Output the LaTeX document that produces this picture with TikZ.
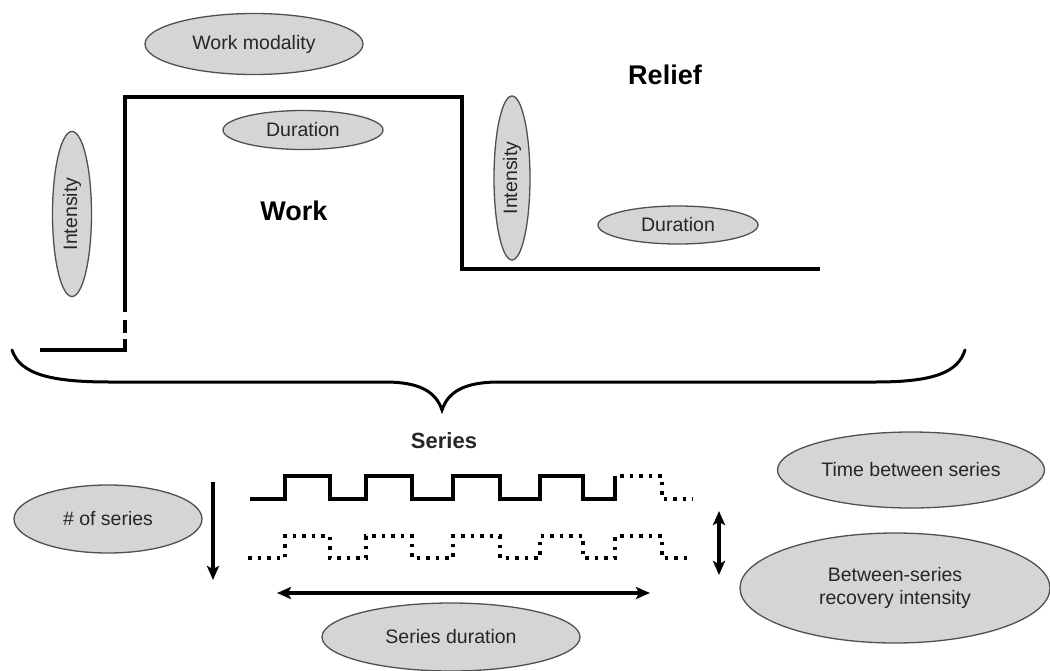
\documentclass[tikz,border=0pt]{standalone}
\usepackage{fontspec}
\setmainfont{Liberation Sans}
\usetikzlibrary{shapes.geometric,arrows.meta}
\definecolor{ellfill}{HTML}{D5D5D5}
\definecolor{elldraw}{HTML}{505050}
\definecolor{txt}{HTML}{262626}
\begin{document}
\begin{tikzpicture}[x=1pt,y=-1pt,
  bubble/.style={ellipse, draw=elldraw, fill=ellfill, line width=1.3pt, inner sep=0pt,
    text=txt, font=\fontsize{19.5}{23}\selectfont, align=center},
  bigword/.style={font=\fontsize{27}{30}\selectfont\bfseries, text=black},
  stepline/.style={line width=4pt, line cap=butt, line join=miter},
  wavesolid/.style={line width=4.5pt, line join=miter},
  wavedot/.style={line width=3.5pt, dash pattern=on 3.5pt off 6pt},
  bracestyle/.style={line width=3pt, line cap=round},
  arr/.style={line width=3.2pt, arrows={-Stealth[length=14pt,width=12pt,inset=3pt]}},
  darr/.style={line width=3.2pt, arrows={Stealth[length=14pt,width=12pt,inset=3pt]-Stealth[length=14pt,width=12pt,inset=3pt]}}]
\useasboundingbox (0,0) rectangle (1050,670);
\fill[white] (0,0) rectangle (1050,670);

% upper part: work / relief profile
\coordinate (s0) at (40,350);
\coordinate (s1) at (125,350);
\coordinate (s2) at (125,97);
\coordinate (s3) at (462,97);
\coordinate (s4) at (462,269);
\coordinate (s5) at (820,269);
\draw[stepline] (s0) -- (s1) -- (125,339);
\draw[stepline] (125,333) -- (125,320);
\draw[stepline] (125,312) -- (s2) -- (s3) -- (s4) -- (s5);

\node[bubble, minimum width=218pt, minimum height=61pt] (modality) at (254,44) {Work modality};
\node[bubble, minimum width=160pt, minimum height=39pt] (wdur) at (303,130) {Duration};
\node[bubble, minimum width=165pt, minimum height=39pt, rotate=90] (wint) at (72,214) {Intensity};
\node[bubble, minimum width=164pt, minimum height=36pt, rotate=90] (rint) at (512,178) {Intensity};
\node[bubble, minimum width=160pt, minimum height=38pt] (rdur) at (678,225) {Duration};
\node[bigword] (work) at (294,211) {Work};
\node[bigword] (relief) at (665,75) {Relief};

% brace
\draw[bracestyle] (12,350) .. controls (20,374) and (50,382) .. (110,382) -- (385,382)
  .. controls (420,382) and (436,392) .. (442,410)
  .. controls (448,392) and (464,382) .. (499,382) -- (875,382)
  .. controls (935,382) and (958,372) .. (965,350);
\node[font=\fontsize{22}{25}\selectfont\bfseries, text=txt] (series) at (444,441) {Series};

% series waveforms
\draw[wavesolid] (250,499) -- (285,499) -- (285,476) -- (330,476) -- (330,499)
  -- (366,499) -- (366,476) -- (412,476) -- (412,499)
  -- (453,499) -- (453,476) -- (500,476) -- (500,499)
  -- (540,499) -- (540,476) -- (583,476) -- (583,499)
  -- (615,499) -- (615,476);
\draw[wavedot] (620,476) -- (662,476) -- (662,499) -- (693,499);
\draw[wavedot] (248,558) -- (285,558) -- (285,536) -- (330,536) -- (330,558)
  -- (366,558) -- (366,536) -- (412,536) -- (412,558)
  -- (453,558) -- (453,536) -- (500,536) -- (500,558)
  -- (540,558) -- (540,536) -- (583,536) -- (583,558)
  -- (615,558) -- (615,536) -- (662,536) -- (662,558) -- (693,558);

% arrows
\coordinate (nA) at (213,482);
\coordinate (nB) at (213,580);
\draw[arr] (nA) -- (nB);
\coordinate (hA) at (277,593);
\coordinate (hB) at (650,593);
\draw[darr] (hA) -- (hB);
\coordinate (vA) at (719,511);
\coordinate (vB) at (719,575);
\draw[darr] (vA) -- (vB);

% lower bubbles
\node[bubble, minimum width=188pt, minimum height=68pt] (nseries) at (108,519) {\# of series};
\node[bubble, minimum width=258pt, minimum height=68pt] (sdur) at (451,637) {Series duration};
\node[bubble, minimum width=267pt, minimum height=76pt] (tbs) at (911,470) {Time between series};
\node[bubble, minimum width=310pt, minimum height=110pt] (bsri) at (895,588) {Between-series\\recovery intensity};
\end{tikzpicture}
\end{document}
